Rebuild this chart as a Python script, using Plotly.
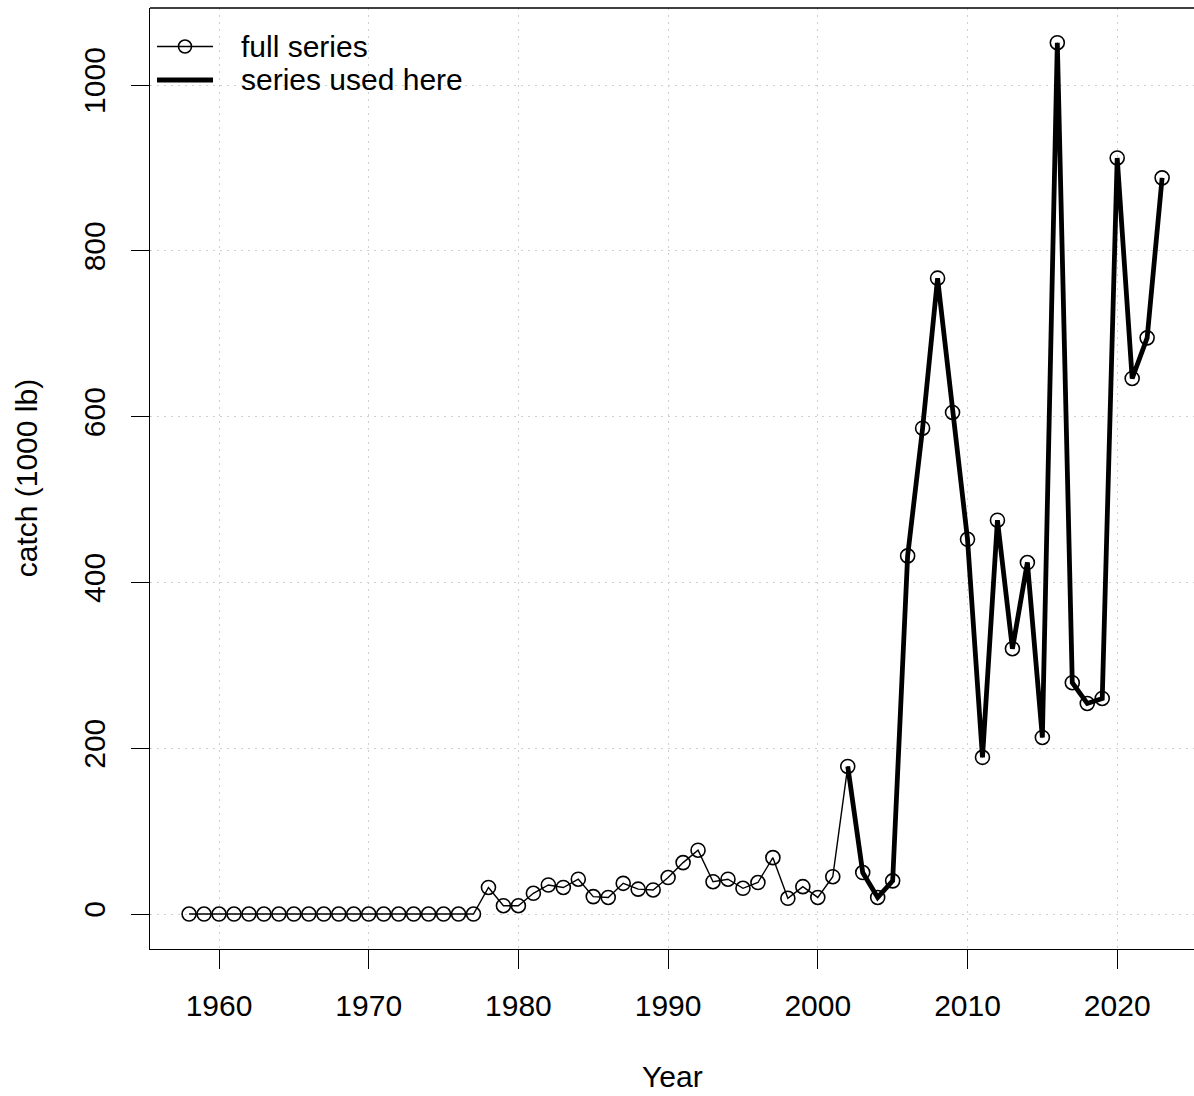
import plotly.graph_objects as go

# Annual catch, 1000 lb
years = list(range(1958, 2024))
catch = [
    0, 0, 0, 0, 0, 0, 0, 0, 0, 0,            # 1958-1967
    0, 0, 0, 0, 0, 0, 0, 0, 0, 0,            # 1968-1977
    32, 10, 10, 25, 35, 32, 42, 21, 20, 37,  # 1978-1987
    30, 29, 44, 62, 77, 39, 42, 31, 38, 68,  # 1988-1997
    19, 33, 20, 45, 178, 50, 20, 40, 432, 586,  # 1998-2007
    767, 605, 452, 189, 475, 320, 424, 213, 1051, 279,  # 2008-2017
    254, 260, 912, 646, 695, 888,            # 2018-2023
]
used_start = 2002
used_years = [y for y in years if y >= used_start]
used_catch = [c for y, c in zip(years, catch) if y >= used_start]

x_ticks = [1960, 1970, 1980, 1990, 2000, 2010, 2020]
y_ticks = [0, 200, 400, 600, 800, 1000]

FONT = "Liberation Sans, Arial, sans-serif"
FS = 30

fig = go.Figure()
fig.add_trace(go.Scatter(
    x=years, y=catch, mode="lines+markers",
    line=dict(color="black", width=1.4),
    marker=dict(symbol="circle-open", size=14, color="black", line=dict(width=1.6)),
    showlegend=False,
))
fig.add_trace(go.Scatter(
    x=used_years, y=used_catch, mode="lines",
    line=dict(color="black", width=4.8),
    showlegend=False,
))

grid = dict(showgrid=True, gridcolor="#cfcfcf", gridwidth=1.3, griddash="1.5px,5.5px")

fig.update_layout(
    width=1194, height=1096,
    margin=dict(l=150, r=0, t=8, b=147),
    paper_bgcolor="white", plot_bgcolor="white",
    font=dict(family=FONT, size=FS, color="black"),
    xaxis=dict(
        range=[1955.39, 2025.13], tickvals=x_ticks, ticks="outside", ticklen=19,
        tickwidth=1.4, tickcolor="black", showline=True, linecolor="black", linewidth=1.4,
        zeroline=False, ticklabelstandoff=11, **grid,
    ),
    yaxis=dict(
        range=[-42.2, 1092.9], tickvals=y_ticks, ticks="outside", ticklen=18,
        tickwidth=1.4, tickcolor="black", showline=True, linecolor="black", linewidth=1.4,
        zeroline=False, tickangle=-90, ticklabelstandoff=14, **grid,
    ),
    showlegend=False,
)

# top edge of the plot box
fig.add_shape(type="line", xref="paper", yref="paper", x0=0, x1=1, y0=1, y1=1,
              line=dict(color="black", width=1.4))

# axis titles
fig.add_annotation(text="Year", xref="paper", yref="paper", x=0.5, y=-0.136,
                   xanchor="center", yanchor="middle", showarrow=False,
                   font=dict(size=FS))
fig.add_annotation(text="catch (1000 lb)", xref="paper", yref="paper", x=-0.118, y=0.5,
                   xanchor="center", yanchor="middle", textangle=-90, showarrow=False,
                   font=dict(size=FS))

# legend drawn in pixel terms relative to the plot area
plot_w = 1194 - 150
plot_h = 1096 - 8 - 147


def px(xp):
    return (xp - 150) / plot_w


def py(yp):
    return 1 - (yp - 8) / plot_h


fig.add_shape(type="line", xref="paper", yref="paper", x0=px(157), x1=px(213),
              y0=py(46.5), y1=py(46.5), line=dict(color="black", width=1.4))
fig.add_shape(type="circle", xref="paper", yref="paper", x0=px(178.5), x1=px(191.5),
              y0=py(53), y1=py(40), line=dict(color="black", width=1.6))
fig.add_shape(type="line", xref="paper", yref="paper", x0=px(157), x1=px(213),
              y0=py(80), y1=py(80), line=dict(color="black", width=4.8))
fig.add_annotation(text="full series", xref="paper", yref="paper", x=px(239), y=py(46.5),
                   xanchor="left", yanchor="middle", showarrow=False, font=dict(size=FS))
fig.add_annotation(text="series used here", xref="paper", yref="paper", x=px(239), y=py(80),
                   xanchor="left", yanchor="middle", showarrow=False, font=dict(size=FS))

fig.write_html("out.html")
